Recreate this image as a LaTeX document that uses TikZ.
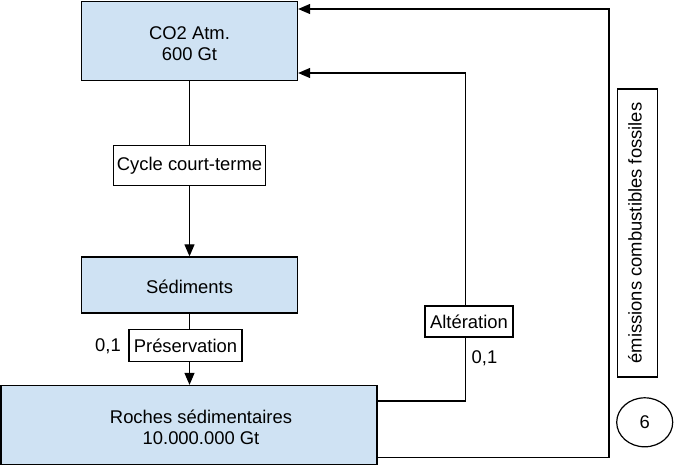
\documentclass[tikz,border=0pt]{standalone}
\usepackage{fontspec}
\setmainfont{Liberation Sans}
\usetikzlibrary{arrows.meta,shapes.geometric}
\definecolor{boxblue}{HTML}{CFE2F3}
\newcommand\boxtxt[1]{\raisebox{-4.5pt}[\height][\depth]{\begin{tabular}{@{}c@{}}#1\end{tabular}}}
\tikzset{
  every node/.style={font=\fontsize{18.4}{21.6}\selectfont, inner sep=0pt},
  bluebox/.style={draw, fill=boxblue, line width=1.3pt},
  whitebox/.style={draw, fill=white, line width=1.2pt},
  conn/.style={line width=1.2pt},
  arr/.style={conn, -{Triangle[length=12pt,width=10pt]}},
  plain/.style={}
}
\begin{document}
\begin{tikzpicture}[x=1pt,y=-1pt]
\useasboundingbox (0,0) rectangle (674,466);
\node[bluebox, minimum width=216, minimum height=79] (co2) at (189.5,41) {\boxtxt{CO2 Atm.\\600 Gt}};
\node[whitebox, minimum width=152, minimum height=40] (cycle) at (189.5,165.5) {Cycle court-terme};
\node[bluebox, minimum width=216, minimum height=56] (sed) at (189.5,285) {\boxtxt{Sédiments}};
\node[whitebox, minimum width=113, minimum height=32] (pres) at (185.5,345.5) {Préservation};
\node[plain] (l1) at (108,346) {0,1};
\node[bluebox, minimum width=376, minimum height=79] (roches) at (189,425) {\hspace*{24pt}\boxtxt{Roches sédimentaires\\10.000.000 Gt}};
\node[whitebox, minimum width=88, minimum height=31] (alt) at (469,321.5) {Altération};
\node[plain] (l2) at (484.5,358) {0,1};
\node[whitebox, minimum width=288, minimum height=40, rotate=90] (emis) at (637.5,233) {\raisebox{2.5pt}[\height][\depth]{émissions combustibles fossiles}};
\node[draw, ellipse, line width=1.2pt, minimum width=56, minimum height=49] (six) at (644.7,422.3) {6};

\coordinate (altx) at (465.3,0);
\coordinate (outx) at (609,0);
\coordinate (y1) at (0,401);
\coordinate (y2) at (0,457.3);
\coordinate (ya) at (0,73);
\coordinate (yb) at (0,9);

\draw[conn] (co2.south) -- (cycle.north);
\draw[arr] (cycle.south) -- (sed.north);
\draw[conn] (sed.south) -- (sed.south |- pres.north);
\draw[arr] (sed.south |- pres.south) -- (roches.north -| sed.south);
\draw[conn] (roches.east |- y1) -- (altx |- y1) -- (altx |- alt.south);
\draw[arr] (altx |- alt.north) -- (altx |- ya) -- (co2.east |- ya);
\draw[arr] (roches.east |- y2) -- (outx |- y2) -- (outx |- yb) -- (co2.east |- yb);
\end{tikzpicture}
\end{document}
